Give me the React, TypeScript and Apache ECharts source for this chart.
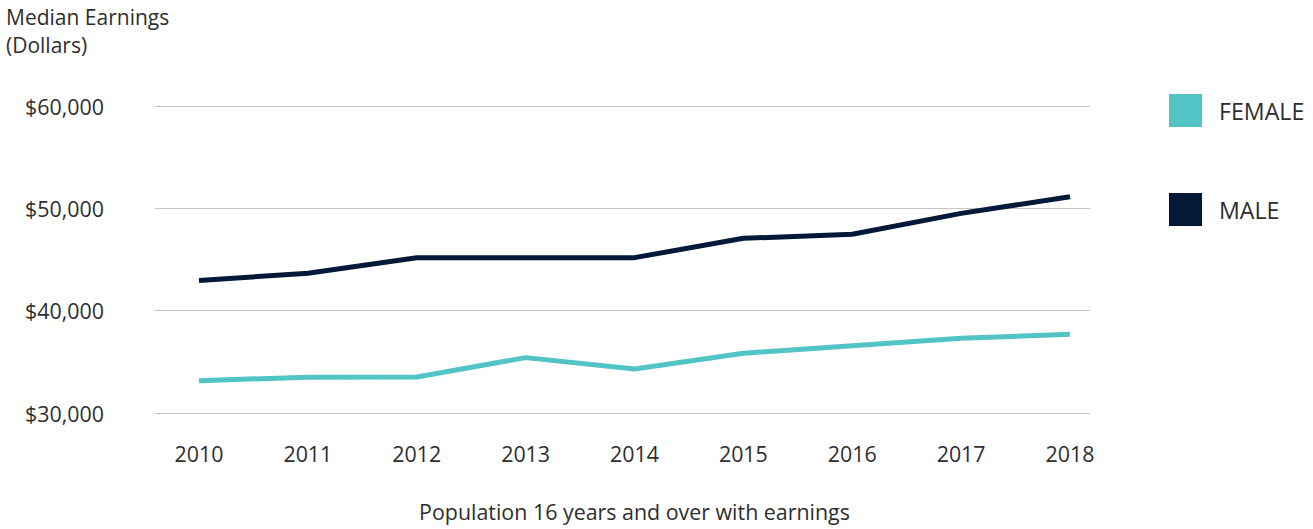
import React, { useEffect, useRef } from "react";
import * as echarts from "echarts";

const years = ["2010", "2011", "2012", "2013", "2014", "2015", "2016", "2017", "2018"];
const female = [33160, 33500, 33520, 35410, 34300, 35840, 36580, 37300, 37690];
const male = [42950, 43650, 45180, 45180, 45180, 47070, 47460, 49510, 51140];
const yTicks = { min: 30000, max: 60000, interval: 10000 };

const FONT = "'Open Sans', 'Noto Sans', sans-serif";
const TEXT = "#2e2e2e";
const FS = 21.4;

export default function App() {
  const ref = useRef<HTMLDivElement>(null);
  useEffect(() => {
    if (!ref.current) return;
    const chart = echarts.init(ref.current, undefined, { renderer: "svg" });
    chart.setOption({
      animation: false,
      textStyle: { fontFamily: FONT },
      title: [
        {
          text: "Median Earnings",
          left: 6,
          top: 3,
          padding: 0,
          textStyle: { fontFamily: FONT, fontSize: 21, fontWeight: "normal", color: TEXT, lineHeight: 27 },
        },
        {
          text: "(Dollars)",
          left: 6,
          top: 31,
          padding: 0,
          textStyle: { fontFamily: FONT, fontSize: 21, fontWeight: "normal", color: TEXT, lineHeight: 27 },
        },
      ],
      legend: {
        orient: "vertical",
        left: 1169,
        top: 94,
        padding: 0,
        itemWidth: 33,
        itemHeight: 33,
        itemGap: 66,
        icon: "rect",
        data: ["FEMALE", "MALE"],
        textStyle: { fontFamily: FONT, fontSize: 23.2, color: TEXT, padding: [0, 0, 0, 12] },
      },
      grid: [
        { left: 155, right: 223, top: 106, bottom: 116 },
        { left: 199, right: 243, top: 106, bottom: 116 },
      ],
      xAxis: [
        { type: "category", gridIndex: 0, data: years, show: false },
        {
          type: "category",
          gridIndex: 1,
          data: years,
          boundaryGap: false,
          axisLine: { show: false },
          axisTick: { show: false },
          axisLabel: { fontFamily: FONT, fontSize: FS, color: TEXT, margin: 30 },
          name: "Population 16 years and over with earnings",
          nameLocation: "middle",
          nameGap: 88,
          nameTextStyle: { fontFamily: FONT, fontSize: FS, color: TEXT },
        },
      ],
      yAxis: [
        {
          type: "value",
          gridIndex: 0,
          min: yTicks.min,
          max: yTicks.max,
          interval: yTicks.interval,
          axisLine: { show: false },
          axisTick: { show: false },
          axisLabel: {
            fontFamily: FONT,
            fontSize: FS,
            color: TEXT,
            margin: 51,
            formatter: (v: number) => "$" + v.toLocaleString("en-US"),
          },
          splitLine: { lineStyle: { color: "#c6c6c6", width: 1.2 } },
        },
        {
          type: "value",
          gridIndex: 1,
          min: yTicks.min,
          max: yTicks.max,
          interval: yTicks.interval,
          show: false,
          splitLine: { show: false },
        },
      ],
      series: [
        {
          name: "FEMALE",
          type: "line",
          xAxisIndex: 1,
          yAxisIndex: 1,
          data: female,
          showSymbol: false,
          symbol: "none",
          lineStyle: { color: "#52c4c6", width: 5, cap: "butt" },
          itemStyle: { color: "#52c4c6" },
        },
        {
          name: "MALE",
          type: "line",
          xAxisIndex: 1,
          yAxisIndex: 1,
          data: male,
          showSymbol: false,
          symbol: "none",
          lineStyle: { color: "#031937", width: 5, cap: "butt" },
          itemStyle: { color: "#031937" },
        },
      ],
    });
    return () => chart.dispose();
  }, []);
  return <div ref={ref} style={{ width: 1313, height: 529, position: "absolute", left: 0, top: 0 }} />;
}
